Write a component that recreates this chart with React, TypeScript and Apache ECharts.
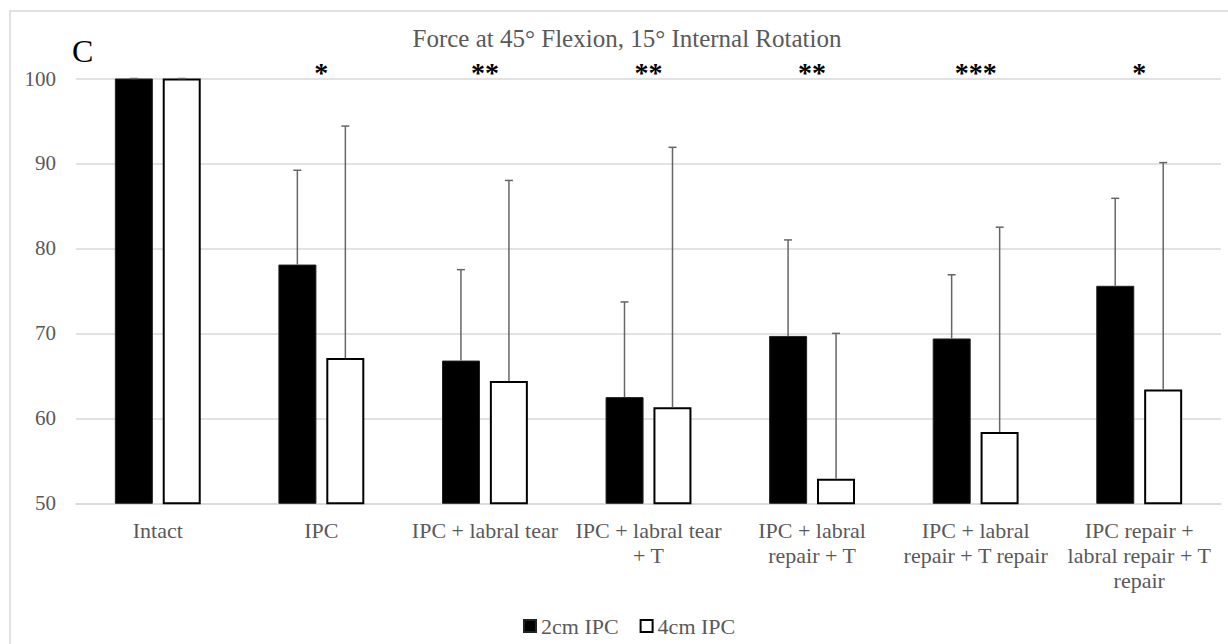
import React, { useEffect, useRef } from "react";
import * as echarts from "echarts";

const categories = [
  "Intact",
  "IPC",
  "IPC + labral tear",
  "IPC + labral tear\n+ T",
  "IPC + labral\nrepair + T",
  "IPC + labral\nrepair + T repair",
  "IPC repair +\nlabral repair + T\nrepair",
];
const mean2cm = [100, 78.1, 66.8, 62.5, 69.7, 69.4, 75.6];
const upper2cm = [100, 89.2, 77.5, 73.7, 81.0, 76.9, 85.9];
const mean4cm = [100, 67.1, 64.4, 61.3, 52.9, 58.4, 63.4];
const upper4cm = [100, 94.4, 88.0, 91.9, 70.0, 82.5, 90.1];
const significance = ["", "*", "**", "**", "**", "***", "*"];
const yTicks = { min: 50, max: 100, interval: 10 };

const SERIF = "Liberation Serif";
const GRAY = "#595959";
const ERR = "#666666";

function errRender(offset: number) {
  return (params: any, api: any) => {
    const base = api.coord([api.value(0), api.value(1)]);
    const top = api.coord([api.value(0), api.value(2)]);
    const cx = base[0] + offset;
    const style = { stroke: ERR, lineWidth: 1.5 };
    return {
      type: "group",
      children: [
        { type: "line", shape: { x1: cx, y1: base[1], x2: cx, y2: top[1] }, style },
        { type: "line", shape: { x1: cx - 4, y1: top[1], x2: cx + 4, y2: top[1] }, style },
      ],
    };
  };
}

export default function App() {
  const ref = useRef<HTMLDivElement>(null);
  useEffect(() => {
    if (!ref.current) return;
    const chart = echarts.init(ref.current, null, { renderer: "svg" });
    const option: any = {
      animation: false,
      backgroundColor: "#ffffff",
      textStyle: { fontFamily: SERIF },
      grid: { left: 76, right: 7, top: 78.5, bottom: 140.7, containLabel: false },
      legend: {
        data: ["2cm IPC", "4cm IPC"],
        left: 518,
        top: 610,
        icon: "rect",
        itemWidth: 12,
        itemHeight: 12,
        itemGap: 21,
        textStyle: { fontFamily: SERIF, fontSize: 22, color: GRAY },
      },
      xAxis: {
        type: "category",
        data: categories,
        axisLine: { show: true, lineStyle: { color: "#d9d9d9", width: 1.5 } },
        axisTick: { show: false },
        axisLabel: {
          interval: 0,
          margin: 15,
          fontFamily: SERIF,
          fontSize: 22,
          lineHeight: 25,
          color: GRAY,
          verticalAlign: "top",
        },
      },
      yAxis: {
        type: "value",
        min: yTicks.min,
        max: yTicks.max,
        interval: yTicks.interval,
        axisLine: { show: false },
        axisTick: { show: false },
        splitLine: { lineStyle: { color: "#d9d9d9", width: 1.5 } },
        axisLabel: { margin: 20, fontFamily: SERIF, fontSize: 21, color: GRAY },
      },
      series: [
        {
          name: "2cm IPC",
          type: "bar",
          data: mean2cm,
          barWidth: 38,
          barGap: "26%",
          itemStyle: { color: "#000000", borderColor: "#222222", borderWidth: 1 },
          z: 2,
        },
        {
          name: "4cm IPC",
          type: "bar",
          data: mean4cm,
          barWidth: 38,
          barGap: "26%",
          itemStyle: { color: "#ffffff", borderColor: "#000000", borderWidth: 2 },
          z: 2,
        },
        {
          type: "custom",
          renderItem: errRender(-24),
          data: mean2cm.map((v, i) => [i, v, upper2cm[i]]),
          z: 5,
          silent: true,
        },
        {
          type: "custom",
          renderItem: errRender(24),
          data: mean4cm.map((v, i) => [i, v, upper4cm[i]]),
          z: 5,
          silent: true,
        },
        {
          type: "custom",
          renderItem: (params: any, api: any) => {
            const p = api.coord([api.value(0), yTicks.max]);
            return {
              type: "text",
              x: p[0],
              y: p[1] + 8,
              style: {
                text: significance[params.dataIndex],
                font: `bold 28px ${SERIF}`,
                fill: "#000000",
                textAlign: "center",
                textVerticalAlign: "bottom",
              },
            };
          },
          data: significance.map((s, i) => [i, yTicks.max]),
          z: 6,
          silent: true,
        },
      ],
      graphic: [
        {
          type: "rect",
          shape: { x: 10, y: 11, width: 1240, height: 660 },
          style: { fill: "none", stroke: "#d9d9d9", lineWidth: 1.5 },
          silent: true,
        },
        {
          type: "text",
          x: 627,
          y: 38,
          style: {
            text: "Force at 45° Flexion, 15° Internal Rotation",
            font: `25px ${SERIF}`,
            fill: GRAY,
            textAlign: "center",
            textVerticalAlign: "middle",
          },
        },
        {
          type: "text",
          x: 72,
          y: 51,
          style: {
            text: "C",
            font: `32px ${SERIF}`,
            fill: "#000000",
            textAlign: "left",
            textVerticalAlign: "middle",
          },
        },
      ],
    };
    chart.setOption(option);
    return () => chart.dispose();
  }, []);
  return (
    <div
      ref={ref}
      style={{ position: "fixed", left: 0, top: 0, width: 1228, height: 644, background: "#fff" }}
    />
  );
}
